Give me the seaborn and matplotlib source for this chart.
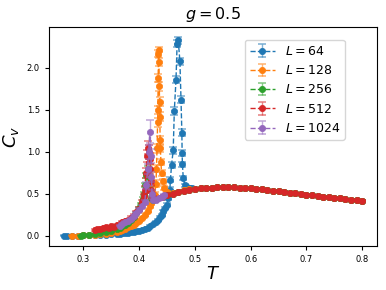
import matplotlib
matplotlib.use("Agg")
import matplotlib.pyplot as plt
from matplotlib.container import ErrorbarContainer
import seaborn as sns
import numpy as np

# ---------------- data ----------------
sizes = [64, 128, 256, 512, 1024]

# common high-temperature branch (all L coincide there)
T_high = [0.50, 0.51, 0.52, 0.53, 0.54, 0.55, 0.56, 0.57, 0.58, 0.59, 0.60,
          0.61, 0.62, 0.63, 0.64, 0.65, 0.66, 0.67, 0.68, 0.69, 0.70,
          0.71, 0.72, 0.73, 0.74, 0.75, 0.76, 0.77, 0.78, 0.79, 0.80]
Cv_high = [0.560, 0.566, 0.570, 0.573, 0.575, 0.576, 0.576, 0.575, 0.572, 0.568, 0.563,
           0.557, 0.551, 0.544, 0.537, 0.530, 0.522, 0.514, 0.506, 0.498, 0.490,
           0.482, 0.474, 0.466, 0.459, 0.451, 0.444, 0.437, 0.430, 0.423, 0.416]
err_high = [0.006, 0.006, 0.006, 0.006, 0.006, 0.006, 0.006, 0.006, 0.006, 0.006, 0.006,
            0.006, 0.006, 0.006, 0.006, 0.006, 0.006, 0.006, 0.006, 0.006, 0.006,
            0.006, 0.006, 0.006, 0.006, 0.006, 0.006, 0.006, 0.006, 0.006, 0.006]

T_64 = [0.265, 0.27, 0.28, 0.29, 0.30, 0.31, 0.32, 0.33, 0.34, 0.35,
        0.36, 0.365, 0.37, 0.375, 0.38, 0.385, 0.39, 0.395, 0.40, 0.405,
        0.41, 0.415, 0.42, 0.425, 0.43, 0.434, 0.437, 0.44, 0.443, 0.446,
        0.449, 0.452, 0.455, 0.456, 0.458, 0.461, 0.463, 0.466, 0.468, 0.470,
        0.473, 0.475, 0.4765, 0.477, 0.4775, 0.479, 0.482, 0.486, 0.491, 0.495]
Cv_64 = [0.000, 0.000, 0.001, 0.002, 0.003, 0.005, 0.007, 0.010, 0.013, 0.017,
         0.022, 0.025, 0.028, 0.032, 0.036, 0.041, 0.046, 0.053, 0.060, 0.069,
         0.080, 0.095, 0.115, 0.135, 0.160, 0.190, 0.220, 0.250, 0.290, 0.330,
         0.370, 0.450, 0.550, 0.670, 0.840, 1.020, 1.490, 1.860, 2.290, 2.330,
         2.080, 1.620, 1.230, 0.990, 0.850, 0.690, 0.600, 0.580, 0.570, 0.565]
err_64 = [0.003, 0.003, 0.003, 0.003, 0.003, 0.004, 0.004, 0.004, 0.004, 0.004,
          0.005, 0.005, 0.005, 0.005, 0.005, 0.006, 0.006, 0.006, 0.007, 0.007,
          0.008, 0.008, 0.009, 0.010, 0.010, 0.012, 0.012, 0.014, 0.015, 0.016,
          0.018, 0.020, 0.025, 0.030, 0.035, 0.040, 0.045, 0.045, 0.040, 0.040,
          0.040, 0.040, 0.040, 0.035, 0.030, 0.025, 0.020, 0.015, 0.010, 0.010]

T_128 = [0.28, 0.29, 0.30, 0.31, 0.32, 0.33, 0.34, 0.35, 0.36,
         0.365, 0.37, 0.375, 0.38, 0.385, 0.39, 0.395, 0.40, 0.405, 0.41,
         0.415, 0.419, 0.422, 0.425, 0.428, 0.430, 0.431, 0.432, 0.433, 0.4335,
         0.434, 0.4345, 0.435, 0.4355, 0.436, 0.4365, 0.437, 0.4375, 0.438, 0.439,
         0.440, 0.442, 0.445, 0.45, 0.46, 0.47, 0.48, 0.49]
Cv_128 = [0.000, 0.001, 0.003, 0.006, 0.011, 0.018, 0.025, 0.035, 0.050,
          0.060, 0.070, 0.085, 0.100, 0.115, 0.130, 0.150, 0.175, 0.210, 0.250,
          0.300, 0.350, 0.390, 0.430, 0.490, 0.620, 0.800, 1.040, 1.350, 1.500,
          1.880, 2.170, 2.220, 2.070, 1.780, 1.600, 1.420, 1.140, 1.040, 0.880,
          0.750, 0.650, 0.570, 0.520, 0.510, 0.525, 0.540, 0.555]
err_128 = [0.003, 0.003, 0.003, 0.004, 0.004, 0.005, 0.005, 0.006, 0.006,
           0.007, 0.007, 0.008, 0.008, 0.009, 0.010, 0.010, 0.012, 0.013, 0.015,
           0.017, 0.020, 0.022, 0.025, 0.030, 0.040, 0.045, 0.050, 0.050, 0.050,
           0.050, 0.045, 0.035, 0.045, 0.050, 0.050, 0.050, 0.050, 0.045, 0.040,
           0.035, 0.030, 0.020, 0.015, 0.010, 0.008, 0.008, 0.008]

T_256 = [0.295, 0.30, 0.31, 0.32, 0.33, 0.34, 0.35, 0.36, 0.365, 0.37,
         0.375, 0.38, 0.385, 0.39, 0.395, 0.40, 0.403, 0.406, 0.409, 0.411,
         0.413, 0.415, 0.417, 0.419, 0.421, 0.425, 0.43, 0.44, 0.45, 0.46,
         0.47, 0.48, 0.49]
Cv_256 = [0.000, 0.003, 0.012, 0.022, 0.035, 0.045, 0.060, 0.080, 0.095, 0.110,
          0.130, 0.150, 0.185, 0.225, 0.275, 0.330, 0.380, 0.440, 0.500, 0.600,
          0.720, 0.800, 0.700, 0.550, 0.450, 0.430, 0.440, 0.460, 0.480, 0.500,
          0.520, 0.535, 0.550]
err_256 = [0.003, 0.003, 0.004, 0.004, 0.005, 0.005, 0.006, 0.006, 0.007, 0.007,
           0.008, 0.008, 0.009, 0.010, 0.011, 0.012, 0.014, 0.016, 0.020, 0.025,
           0.030, 0.035, 0.030, 0.025, 0.020, 0.015, 0.010, 0.008, 0.008, 0.008,
           0.008, 0.008, 0.008]

T_512 = [0.32, 0.325, 0.33, 0.335, 0.34, 0.345, 0.35, 0.355, 0.36,
         0.365, 0.37, 0.375, 0.38, 0.385, 0.39, 0.395, 0.40, 0.405, 0.408,
         0.41, 0.412, 0.414, 0.415, 0.417, 0.419, 0.42, 0.421, 0.422, 0.423,
         0.425, 0.43, 0.44, 0.45, 0.46, 0.47, 0.48, 0.49]
Cv_512 = [0.070, 0.085, 0.080, 0.095, 0.100, 0.090, 0.110, 0.105, 0.130,
          0.140, 0.160, 0.170, 0.190, 0.215, 0.240, 0.280, 0.320, 0.400, 0.470,
          0.550, 0.750, 0.950, 1.050, 1.000, 0.920, 0.800, 0.650, 0.550, 0.480,
          0.450, 0.440, 0.460, 0.480, 0.500, 0.520, 0.535, 0.550]
err_512 = [0.010, 0.010, 0.010, 0.010, 0.010, 0.010, 0.010, 0.010, 0.012,
           0.012, 0.012, 0.014, 0.014, 0.015, 0.016, 0.018, 0.020, 0.025, 0.030,
           0.040, 0.060, 0.070, 0.080, 0.080, 0.070, 0.060, 0.050, 0.040, 0.030,
           0.020, 0.015, 0.010, 0.010, 0.010, 0.010, 0.010, 0.010]

T_1024 = [0.365, 0.37, 0.375, 0.38, 0.385, 0.39, 0.395, 0.40, 0.405, 0.41,
          0.413, 0.415, 0.417, 0.419, 0.421, 0.422, 0.423, 0.425, 0.43, 0.435,
          0.44, 0.445]
Cv_1024 = [0.120, 0.140, 0.160, 0.180, 0.205, 0.235, 0.270, 0.310, 0.350, 0.400,
           0.600, 0.800, 1.000, 1.240, 0.950, 0.700, 0.500, 0.420, 0.430, 0.450,
           0.465, 0.480]
err_1024 = [0.010, 0.010, 0.010, 0.012, 0.012, 0.014, 0.015, 0.016, 0.018, 0.020,
            0.040, 0.060, 0.080, 0.140, 0.080, 0.060, 0.040, 0.020, 0.015, 0.012,
            0.012, 0.012]

series = {
    64: (T_64 + T_high, Cv_64 + Cv_high, err_64 + err_high),
    128: (T_128 + T_high, Cv_128 + Cv_high, err_128 + err_high),
    256: (T_256 + T_high, Cv_256 + Cv_high, err_256 + err_high),
    512: (T_512 + T_high, Cv_512 + Cv_high, err_512 + err_high),
    1024: (T_1024, Cv_1024, err_1024),
}

# ---------------- figure ----------------
fig = plt.figure(figsize=(3.86, 2.90), dpi=100)
ax = fig.add_axes([0.127, 0.152, 0.850, 0.755])
colors = sns.color_palette("tab10", 5)

handles = []
for L, col in zip(sizes, colors):
    T, C, E = series[L]
    ec = ax.errorbar(T, C, yerr=E, fmt="none", ecolor=col, alpha=0.55,
                     capsize=3.0, elinewidth=1.0, capthick=1.2)
    sns.lineplot(x=np.array(T), y=np.array(C), ax=ax, color=col, sort=False,
                 errorbar=None, legend=False, linestyle="--", linewidth=1.0,
                 marker="o", markersize=4.5, markeredgecolor=col,
                 markeredgewidth=0.5)
    line = ax.lines[-1]
    handles.append(ErrorbarContainer((line, ec.lines[1], ec.lines[2]),
                                     has_xerr=False, has_yerr=True,
                                     label=rf"$L = {L}$"))

ax.set_title(r"$g = 0.5$", fontsize=11.5)
ax.set_xlabel(r"$T$", fontsize=13, labelpad=1)
ax.set_ylabel(r"$C_v$", fontsize=13, labelpad=4)
ax.tick_params(labelsize=6, length=3)
ax.set_xticks([0.3, 0.4, 0.5, 0.6, 0.7, 0.8])
ax.set_yticks([0.0, 0.5, 1.0, 1.5, 2.0])

ax.legend(handles=handles, labels=[h.get_label() for h in handles],
          loc="upper right", bbox_to_anchor=(0.902, 0.941), borderaxespad=0,
          fontsize=9)

fig.savefig("out.png", dpi=100)
